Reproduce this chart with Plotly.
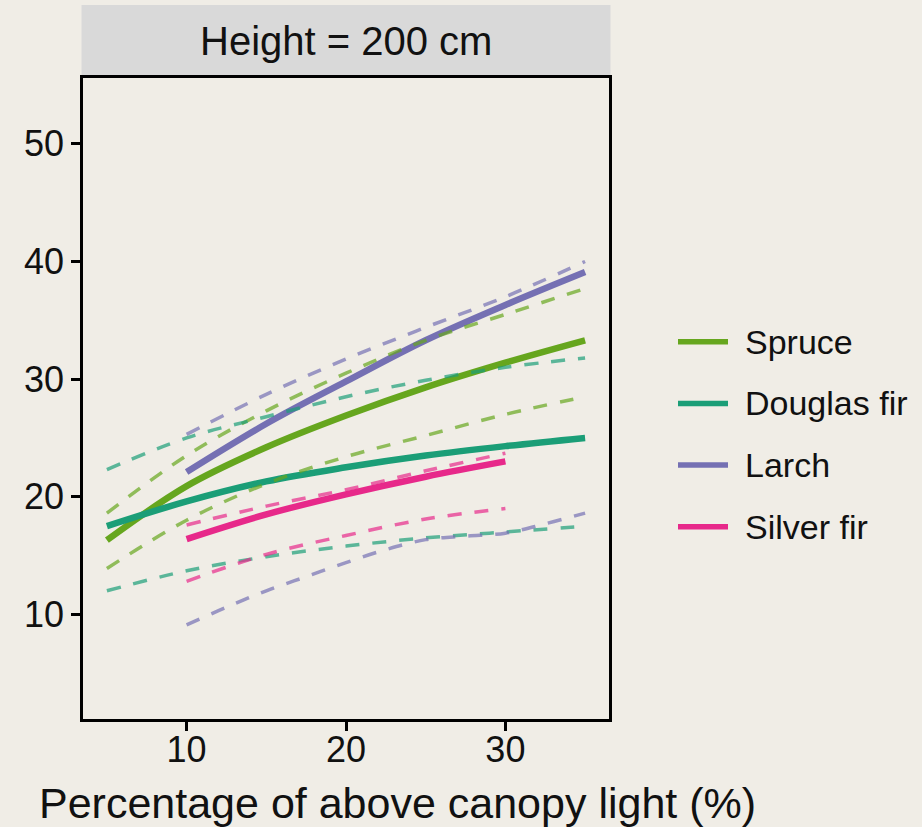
import plotly.graph_objects as go

# Percentage of above-canopy light (x) for each fitted curve
light_all = [5, 10, 15, 20, 25, 30, 35]
light_larch = [10, 15, 20, 25, 30, 35]
light_larch_lo = [10, 12.5, 15, 17.5, 20, 22.5, 25, 27.5, 30, 32.5, 35]
light_fir = [10, 15, 20, 25, 30]

species = ["Spruce", "Douglas fir", "Larch", "Silver fir"]
colors = ["#66A61E", "#1B9E77", "#7570B3", "#E7298A"]

spruce_fit = [16.3, 20.9, 24.2, 26.9, 29.3, 31.4, 33.3]
spruce_lo = [13.9, 18.0, 21.1, 23.4, 25.2, 27.0, 28.5]
spruce_hi = [18.6, 23.5, 27.3, 30.5, 33.3, 35.5, 37.7]

douglas_fit = [17.5, 19.6, 21.3, 22.5, 23.5, 24.3, 25.0]
douglas_lo = [12.0, 13.7, 14.9, 15.8, 16.5, 17.0, 17.5]
douglas_hi = [22.3, 25.0, 26.8, 28.5, 29.9, 31.0, 31.8]

larch_fit = [22.1, 26.2, 29.8, 33.3, 36.3, 39.1]
larch_lo = [9.1, 10.6, 12.0, 13.2, 14.4, 15.5, 16.35, 16.65, 16.9, 17.7, 18.6]
larch_hi = [25.3, 28.7, 31.7, 34.4, 37.0, 40.0]

silver_fit = [16.4, 18.5, 20.2, 21.7, 23.0]
silver_lo = [12.8, 15.1, 16.7, 18.1, 19.0]
silver_hi = [17.6, 19.2, 20.6, 22.2, 23.7]

x_ticks = [10, 20, 30]
y_ticks = [10, 20, 30, 40, 50]

fits = [
    (light_all, spruce_fit),
    (light_all, douglas_fit),
    (light_larch, larch_fit),
    (light_fir, silver_fit),
]
bands = [
    [(light_all, spruce_lo), (light_all, spruce_hi)],
    [(light_all, douglas_lo), (light_all, douglas_hi)],
    [(light_larch_lo, larch_lo), (light_larch, larch_hi)],
    [(light_fir, silver_lo), (light_fir, silver_hi)],
]

BG = "rgb(240,237,230)"
FONT = "Liberation Sans, Arial, sans-serif"
W, H = 922, 827
ML, MR, MT, MB = 83, 313, 78, 108
PW, PH = W - ML - MR, H - MT - MB


def px_x(p):
    return (p - ML) / PW


def px_y(p):
    return (H - MB - p) / PH


def rgba(hex_color, a):
    h = hex_color.lstrip("#")
    r, g, b = int(h[0:2], 16), int(h[2:4], 16), int(h[4:6], 16)
    return f"rgba({r},{g},{b},{a})"


fig = go.Figure()

# fitted curves
for name, col, (xs, ys) in zip(species, colors, fits):
    fig.add_trace(go.Scatter(
        x=xs, y=ys, mode="lines", name=name,
        line=dict(color=col, width=6.5, shape="spline"),
        showlegend=False, hoverinfo="skip",
    ))

# confidence limits (dashed)
for name, col, pair in zip(species, colors, bands):
    for xs, ys in pair:
        fig.add_trace(go.Scatter(
            x=xs, y=ys, mode="lines", name=name,
            line=dict(color=rgba(col, 0.7), width=3.5, shape="spline",
                      dash="14px,13px"),
            showlegend=False, hoverinfo="skip",
        ))

shapes = []
annotations = []

# facet strip
shapes.append(dict(type="rect", xref="paper", yref="paper",
                   x0=-1.5 / PW, x1=1 + 1.5 / PW, y0=1, y1=px_y(5),
                   fillcolor="#D9D9D9", line=dict(width=0), layer="below"))
annotations.append(dict(text="Height = 200 cm", xref="paper", yref="paper",
                        x=0.5, y=px_y(41), xanchor="center", yanchor="middle",
                        showarrow=False, font=dict(size=40, color="#111111", family=FONT)))

# x-axis title
annotations.append(dict(text="Percentage of above canopy light (%)", xref="paper", yref="paper",
                        x=px_x(397), y=px_y(803), xanchor="center", yanchor="middle",
                        showarrow=False, font=dict(size=43, color="#111111", family=FONT)))

# legend keys
for i, (name, col) in enumerate(zip(species, colors)):
    yc = px_y(341.7 + i * 61.7)
    shapes.append(dict(type="line", xref="paper", yref="paper",
                       x0=px_x(678), x1=px_x(728), y0=yc, y1=yc,
                       line=dict(color=col, width=5.5)))
    annotations.append(dict(text=name, xref="paper", yref="paper",
                            x=px_x(743), y=yc, xanchor="left", yanchor="middle",
                            showarrow=False, font=dict(size=34, color="#111111", family=FONT)))

axis_common = dict(
    showgrid=False, zeroline=False, showline=True, mirror=True,
    linecolor="black", linewidth=2.5,
    ticks="outside", ticklen=9, tickwidth=2.5, tickcolor="black",
    tickfont=dict(size=36, color="#111111", family=FONT),
)

fig.update_layout(
    width=W, height=H,
    margin=dict(l=ML, r=MR, t=MT, b=MB, pad=0),
    paper_bgcolor=BG, plot_bgcolor=BG,
    xaxis=dict(range=[3.5, 36.5], tickmode="array", tickvals=x_ticks,
               ticklabelstandoff=-12, **axis_common),
    yaxis=dict(range=[1.1, 55.6], tickmode="array", tickvals=y_ticks,
               ticklabelstandoff=0, **axis_common),
    shapes=shapes, annotations=annotations,
    showlegend=False,
)

fig.write_html("out.html")
